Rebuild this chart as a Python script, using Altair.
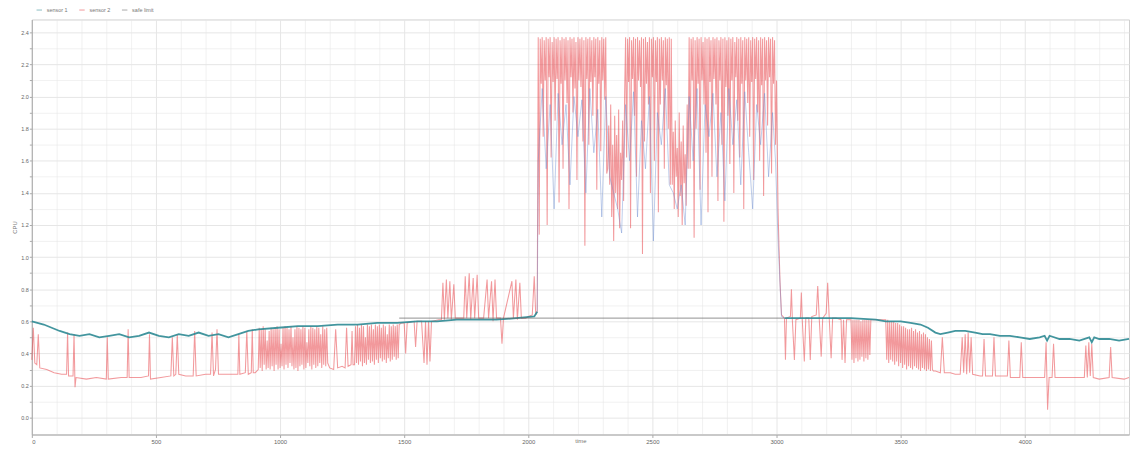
import altair as alt
import pandas as pd

# ---- axis ticks -------------------------------------------------------------
X_TICKS = [0, 100, 200, 300, 400, 500, 600, 700, 800, 900, 1000, 1100, 1200, 1300, 1400,
           1500, 1600, 1700, 1800, 1900, 2000, 2100, 2200, 2300, 2400, 2500, 2600, 2700,
           2800, 2900, 3000, 3100, 3200, 3300, 3400, 3500, 3600, 3700, 3800, 3900, 4000,
           4100, 4200, 4300, 4400]
Y_TICKS = [0.0, 0.1, 0.2, 0.3, 0.4, 0.5, 0.6, 0.7, 0.8, 0.9, 1.0, 1.1, 1.2, 1.3, 1.4,
           1.5, 1.6, 1.7, 1.8, 1.9, 2.0, 2.1, 2.2, 2.3, 2.4]

SERIES = ["sensor 1", "sensor 2", "safe limit"]
COLORS = ["#2e8a94", "#e8464a", "#666666"]

SAMPLE_STEP = 4  # spacing of the densely sampled stretches

# ---- sensor 2 (red) : sparse stretches as (x, y) --------------------------------
RED_A = [(0, 0.36), (6, 0.56), (12, 0.34), (20, 0.33), (26, 0.52), (32, 0.31), (60, 0.30),
         (90, 0.28), (120, 0.27), (140, 0.27), (144, 0.53), (148, 0.26), (166, 0.26),
         (170, 0.52), (174, 0.19), (178, 0.25), (220, 0.24), (260, 0.25), (300, 0.24),
         (304, 0.50), (308, 0.24), (360, 0.25), (384, 0.25), (388, 0.55), (392, 0.25),
         (440, 0.25), (470, 0.26), (474, 0.52), (478, 0.24), (520, 0.25), (560, 0.26),
         (566, 0.50), (572, 0.26), (580, 0.27), (586, 0.52), (592, 0.27), (620, 0.26),
         (650, 0.26), (656, 0.54), (662, 0.26), (700, 0.27), (720, 0.27), (726, 0.53),
         (732, 0.26), (740, 0.30), (746, 0.55), (752, 0.27), (800, 0.27), (830, 0.27),
         (834, 0.52), (838, 0.27), (860, 0.28), (866, 0.54), (872, 0.27), (884, 0.28),
         (888, 0.55), (892, 0.28), (900, 0.28), (906, 0.29)]
# dense stretch 912 .. 1192
RED_B_START = 912
RED_B_Y = [0.30, 0.56, 0.31, 0.55, 0.29, 0.57, 0.33, 0.55, 0.30, 0.48, 0.31, 0.54, 0.30, 0.56,
           0.32, 0.55, 0.29, 0.56, 0.33, 0.57, 0.30, 0.55, 0.31, 0.46, 0.32, 0.56, 0.30, 0.57,
           0.33, 0.56, 0.31, 0.55, 0.34, 0.57, 0.32, 0.50, 0.30, 0.55, 0.31, 0.57, 0.29, 0.56,
           0.32, 0.55, 0.33, 0.57, 0.30, 0.56, 0.31, 0.47, 0.34, 0.55, 0.32, 0.57, 0.30, 0.56,
           0.33, 0.55, 0.31, 0.57, 0.32, 0.56, 0.34, 0.52, 0.31, 0.57, 0.33, 0.55, 0.32, 0.56,
           0.34]
RED_C = [(1200, 0.31), (1216, 0.30), (1224, 0.55), (1232, 0.31), (1250, 0.32), (1262, 0.31),
         (1268, 0.56), (1274, 0.32), (1286, 0.33), (1290, 0.54), (1294, 0.33), (1300, 0.33)]
# dense stretch 1304 .. 1480
RED_D_START = 1304
RED_D_Y = [0.57, 0.34, 0.58, 0.33, 0.56, 0.35, 0.58, 0.32, 0.57, 0.34, 0.50, 0.33, 0.58, 0.36,
           0.57, 0.34, 0.58, 0.35, 0.55, 0.33, 0.58, 0.36, 0.57, 0.34, 0.58, 0.37, 0.56, 0.35,
           0.58, 0.36, 0.57, 0.34, 0.52, 0.37, 0.58, 0.35, 0.57, 0.36, 0.58, 0.38, 0.57, 0.36,
           0.58, 0.37, 0.58]
RED_E = [(1490, 0.59), (1500, 0.59), (1506, 0.40), (1512, 0.59), (1540, 0.60), (1546, 0.44),
         (1552, 0.60), (1570, 0.60), (1580, 0.34), (1586, 0.60), (1592, 0.33), (1598, 0.60),
         (1604, 0.35), (1610, 0.60), (1640, 0.61), (1650, 0.61), (1656, 0.84), (1662, 0.61),
         (1670, 0.86), (1676, 0.62), (1684, 0.85), (1690, 0.61), (1700, 0.83), (1706, 0.62),
         (1740, 0.62), (1746, 0.88), (1752, 0.62), (1762, 0.90), (1768, 0.61), (1778, 0.87),
         (1784, 0.62), (1794, 0.89), (1800, 0.62), (1820, 0.62), (1834, 0.86), (1840, 0.62),
         (1852, 0.85), (1858, 0.60), (1866, 0.86), (1872, 0.62), (1888, 0.62), (1894, 0.46),
         (1900, 0.62), (1934, 0.85), (1940, 0.62), (1950, 0.86), (1956, 0.61), (1966, 0.84),
         (1972, 0.62), (1990, 0.62), (2000, 0.63), (2016, 0.64), (2024, 0.88), (2030, 0.64),
         (2036, 0.66)]
# dense high stretch from 2040 on
RED_F_START = 2040
RED_F_Y = [
    # 2040 .. 2316
    2.37, 1.14, 2.36, 2.08, 2.37, 1.75, 2.35, 2.10, 2.37, 1.20, 2.36, 2.12, 2.37, 1.62,
    2.34, 2.09, 2.37, 1.85, 2.36, 2.11, 2.37, 1.34, 2.35, 2.08, 2.37, 1.55, 2.36, 2.10,
    2.37, 1.96, 2.35, 1.30, 2.37, 2.12, 2.36, 1.90, 2.37, 2.05, 2.34, 1.48, 2.37, 2.10,
    2.36, 2.06, 2.37, 1.72, 2.35, 1.07, 2.37, 2.11, 2.36, 1.70, 2.37, 2.09, 2.35, 1.88,
    2.37, 2.12, 2.36, 1.42, 2.37, 2.08, 2.35, 1.66, 2.37, 2.10, 2.36, 1.98, 2.37, 1.52,
    # 2320 .. 2388 (lower stretch)
    1.55, 1.82, 1.45, 1.95, 1.25, 1.70, 1.10, 1.88, 1.40, 1.76, 1.30, 1.92, 1.18, 1.65,
    1.48, 1.85, 1.35, 2.00,
    # 2392 .. 2576
    2.37, 1.62, 2.36, 2.09, 2.37, 1.18, 2.35, 2.11, 2.37, 1.88, 2.36, 1.50, 2.37, 2.10,
    2.35, 2.06, 2.37, 1.02, 2.36, 1.72, 2.37, 2.08, 2.34, 1.95, 2.37, 1.40, 2.36, 2.12,
    2.37, 1.60, 2.35, 2.09, 2.37, 1.28, 2.36, 1.95, 2.37, 2.10, 2.35, 1.55, 2.37, 2.07,
    2.36, 1.80, 2.37, 1.45, 2.36,
    # 2580 .. 2644 (lower stretch)
    1.45, 1.78, 1.30, 1.85, 1.50, 1.68, 1.25, 1.90, 1.38, 1.72, 1.20, 1.82, 1.46, 1.64,
    1.32, 1.95, 1.55,
    # 2648 .. 3000
    2.37, 1.55, 2.36, 2.10, 2.37, 1.12, 2.35, 1.80, 2.37, 2.08, 2.36, 1.42, 2.37, 2.10,
    2.34, 1.95, 2.37, 1.65, 2.36, 1.28, 2.37, 2.09, 2.35, 1.50, 2.37, 2.11, 2.36, 1.95,
    2.37, 1.35, 2.35, 2.10, 2.37, 1.70, 2.36, 1.22, 2.37, 2.06, 2.35, 1.88, 2.37, 1.58,
    2.36, 2.10, 2.37, 1.40, 2.34, 2.12, 2.37, 1.85, 2.36, 1.62, 2.37, 2.08, 2.35, 1.30,
    2.37, 2.10, 2.36, 1.96, 2.37, 1.75, 2.35, 2.09, 2.37, 1.48, 2.36, 2.11, 2.37, 1.90,
    2.35, 1.60, 2.37, 2.07, 2.36, 1.38, 2.37, 2.10, 2.35, 1.82, 2.37, 2.12, 2.36, 1.52,
    2.37, 2.08, 2.35, 1.70, 2.10,
]
RED_F_TAIL = [(3006, 1.30), (3010, 1.06), (3014, 0.85), (3020, 0.64)]
RED_G1 = [(3032, 0.62), (3036, 0.36), (3040, 0.62), (3056, 0.63), (3060, 0.80), (3064, 0.60),
          (3072, 0.36), (3078, 0.61), (3096, 0.62), (3100, 0.78), (3104, 0.60), (3112, 0.35),
          (3118, 0.62), (3130, 0.62), (3136, 0.36), (3142, 0.63), (3160, 0.64), (3166, 0.82),
          (3172, 0.62), (3180, 0.38), (3186, 0.62), (3200, 0.65), (3206, 0.84), (3212, 0.63),
          (3220, 0.37), (3226, 0.62), (3240, 0.62), (3260, 0.61), (3264, 0.36), (3270, 0.61),
          (3276, 0.34), (3282, 0.61), (3290, 0.61)]
RED_G2_START = 3300
RED_G2_Y = [0.61, 0.36, 0.61, 0.34, 0.61, 0.37, 0.61, 0.35, 0.61, 0.36, 0.60, 0.38, 0.61,
            0.35, 0.61, 0.37, 0.61, 0.36, 0.61, 0.39, 0.61]
RED_G3 = [(3400, 0.61), (3420, 0.61), (3432, 0.61)]
RED_G4_START = 3440
RED_G4_Y = [0.61, 0.36, 0.61, 0.34, 0.60, 0.36, 0.60, 0.35, 0.60, 0.33, 0.59, 0.35, 0.59,
            0.32, 0.58, 0.34, 0.57, 0.31, 0.57, 0.33, 0.56, 0.30, 0.55, 0.32, 0.55, 0.31,
            0.56, 0.30, 0.54, 0.32, 0.55, 0.31, 0.53, 0.30, 0.54, 0.29, 0.52, 0.31, 0.53,
            0.30, 0.52, 0.29, 0.50, 0.30, 0.49, 0.29, 0.48, 0.30, 0.29]
RED_H = [(3640, 0.29), (3660, 0.28), (3668, 0.50), (3676, 0.28), (3700, 0.28), (3720, 0.27),
         (3740, 0.27), (3748, 0.50), (3754, 0.28), (3760, 0.52), (3766, 0.27), (3772, 0.53),
         (3778, 0.28), (3784, 0.50), (3790, 0.27), (3820, 0.26), (3830, 0.26), (3836, 0.49),
         (3842, 0.26), (3870, 0.26), (3876, 0.50), (3882, 0.26), (3930, 0.26), (3936, 0.48),
         (3942, 0.25), (3980, 0.25), (3986, 0.47), (3992, 0.25), (4080, 0.25), (4086, 0.47),
         (4092, 0.05), (4098, 0.25), (4110, 0.25), (4116, 0.46), (4122, 0.25), (4200, 0.25),
         (4240, 0.25), (4246, 0.45), (4252, 0.25), (4258, 0.47), (4264, 0.26), (4270, 0.46),
         (4276, 0.25), (4300, 0.24), (4340, 0.25), (4346, 0.44), (4352, 0.25), (4400, 0.24),
         (4420, 0.25)]

# ---- sensor 1 (teal) ----------------------------------------------------------
TEAL_LEFT = [(0, 0.60), (48, 0.58), (112, 0.54), (152, 0.52), (192, 0.51), (232, 0.52),
             (272, 0.50), (312, 0.51), (352, 0.52), (392, 0.50), (432, 0.51), (472, 0.53),
             (512, 0.51), (552, 0.50), (592, 0.52), (632, 0.51), (672, 0.53), (712, 0.51),
             (752, 0.52), (792, 0.50), (832, 0.52), (872, 0.54), (912, 0.55), (992, 0.56),
             (1072, 0.57), (1152, 0.57), (1232, 0.58), (1312, 0.58), (1392, 0.59),
             (1472, 0.59), (1552, 0.60), (1632, 0.60), (1712, 0.61), (1792, 0.61),
             (1872, 0.61), (1952, 0.62), (2024, 0.63), (2036, 0.66)]
TEAL_MID = [(2036, 0.66), (2040, 1.60), (2056, 2.05), (2072, 1.55), (2088, 1.95), (2104, 1.30),
            (2120, 2.02), (2136, 1.70), (2152, 1.95), (2168, 1.45), (2184, 2.00), (2200, 1.75),
            (2216, 1.98), (2232, 1.40), (2248, 2.05), (2264, 1.65), (2280, 1.92), (2296, 1.25),
            (2312, 2.00), (2328, 1.50), (2344, 1.40), (2360, 1.30), (2376, 1.15), (2392, 1.95),
            (2408, 1.60), (2424, 2.03), (2440, 1.25), (2456, 1.85), (2472, 1.55), (2488, 2.00),
            (2504, 1.10), (2520, 1.90), (2536, 1.70), (2552, 2.05), (2568, 1.45), (2584, 1.40),
            (2600, 1.30), (2616, 1.45), (2632, 1.20), (2648, 2.00), (2664, 1.60), (2680, 2.05),
            (2696, 1.20), (2712, 1.95), (2728, 1.75), (2744, 2.02), (2760, 1.50), (2776, 1.90),
            (2792, 1.35), (2808, 2.05), (2824, 1.70), (2840, 1.98), (2856, 1.45), (2872, 2.03),
            (2888, 1.65), (2904, 1.30), (2920, 1.95), (2936, 1.70), (2952, 2.02), (2968, 1.50),
            (2984, 1.90), (2996, 1.60), (3004, 1.20), (3012, 0.90), (3020, 0.63), (3032, 0.62)]
TEAL_RIGHT = [(3032, 0.62), (3100, 0.62), (3200, 0.62), (3300, 0.62), (3400, 0.61),
              (3440, 0.60), (3500, 0.60), (3540, 0.59), (3580, 0.58), (3610, 0.56),
              (3640, 0.53), (3660, 0.52), (3690, 0.53), (3720, 0.54), (3760, 0.54),
              (3800, 0.53), (3830, 0.52), (3860, 0.52), (3900, 0.51), (3940, 0.51),
              (3980, 0.50), (4020, 0.49), (4060, 0.50), (4080, 0.51), (4090, 0.48),
              (4100, 0.51), (4140, 0.49), (4180, 0.49), (4220, 0.48), (4260, 0.50),
              (4270, 0.47), (4280, 0.50), (4300, 0.49), (4340, 0.49), (4380, 0.48),
              (4420, 0.49)]

# ---- safe limit (gray) ----------------------------------------------------------
LIMIT = [(1480, 0.62), (3030, 0.62)]


def dense(start, values):
    return [(start + SAMPLE_STEP * i, v) for i, v in enumerate(values)]


def table(name, *segments):
    rows = []
    for seg in segments:
        for xv, yv in seg:
            rows.append({"series": name, "x": xv, "y": yv})
    return pd.DataFrame(rows)


red_df = table("sensor 2", RED_A, dense(RED_B_START, RED_B_Y), RED_C,
               dense(RED_D_START, RED_D_Y), RED_E, dense(RED_F_START, RED_F_Y),
               RED_F_TAIL, RED_G1, dense(RED_G2_START, RED_G2_Y), RED_G3,
               dense(RED_G4_START, RED_G4_Y), RED_H)
red_df = red_df.sort_values("x").drop_duplicates("x")
teal_side_df = table("sensor 1", TEAL_LEFT, TEAL_RIGHT)
teal_side_df["part"] = ["L"] * len(TEAL_LEFT) + ["R"] * len(TEAL_RIGHT)
teal_mid_df = table("sensor 1", TEAL_MID)
lim_df = table("safe limit", LIMIT)

FONT = "Liberation Sans"

x_enc = alt.X(
    "x:Q",
    scale=alt.Scale(domain=[0, 4420], nice=False, zero=False),
    axis=alt.Axis(
        values=X_TICKS,
        labelExpr="datum.value % 500 === 0 ? format(datum.value, 'd') : ''",
        title="time",
        titleFontSize=6,
        titleFontWeight="normal",
        titleColor="#777",
        titleBaseline="bottom",
        titleY=9,
        labelFontSize=6,
        labelColor="#666",
        labelPadding=1,
        tickSize=3,
        tickColor="#aaa",
        tickOpacity={"condition": {"test": "datum.value % 500 === 0", "value": 1}, "value": 0},
        domainColor="#aaa",
        gridColor="#e6e6e6",
        gridOpacity={"condition": {"test": "datum.value % 500 === 0", "value": 1}, "value": 0.55},
        labelFont=FONT,
        titleFont=FONT,
    ),
)
y_enc = alt.Y(
    "y:Q",
    scale=alt.Scale(domain=[-0.105, 2.48], nice=False, zero=False),
    axis=alt.Axis(
        values=Y_TICKS,
        labelExpr="round(datum.value * 10) % 2 === 0 ? format(datum.value, '.1f') : ''",
        title="CPU",
        titleFontSize=6,
        titleFontWeight="normal",
        titleColor="#777",
        titlePadding=3,
        labelFontSize=5.5,
        labelColor="#666",
        labelPadding=1,
        tickSize=2.5,
        tickColor="#aaa",
        domainColor="#aaa",
        gridColor="#e6e6e6",
        gridOpacity={"condition": {"test": "round(datum.value * 10) % 2 === 0", "value": 1},
                     "value": 0.55},
        labelFont=FONT,
        titleFont=FONT,
    ),
)
color_enc = alt.Color(
    "series:N",
    scale=alt.Scale(domain=SERIES, range=COLORS),
    legend=alt.Legend(
        orient="none",
        legendX=4,
        legendY=-13,
        direction="horizontal",
        title=None,
        labelFontSize=5.5,
        labelColor="#777",
        labelFont=FONT,
        symbolType="stroke",
        symbolSize=30,
        symbolStrokeWidth=1,
        columnPadding=8,
    ),
)

teal_mid = alt.Chart(teal_mid_df).mark_line(
    strokeWidth=0.8, opacity=0.55, color="#6f8fd0").encode(x=x_enc, y=y_enc, order="x:Q")
red = alt.Chart(red_df).mark_line(strokeWidth=1.05, opacity=0.55).encode(
    x=x_enc, y=y_enc, color=color_enc, order="x:Q")
teal = alt.Chart(teal_side_df).mark_line(strokeWidth=1.8, opacity=0.9).encode(
    x=x_enc, y=y_enc, color=color_enc, detail="part:N", order="x:Q")
lim = alt.Chart(lim_df).mark_line(strokeWidth=0.8, opacity=0.9).encode(
    x=x_enc, y=y_enc, color=color_enc, order="x:Q")

chart = (
    alt.layer(red, teal_mid, teal, lim)
    .properties(
        width=1105,
        height=418,
        autosize=alt.AutoSizeParams(type="none"),
        padding={"left": 24, "top": 10, "right": 2, "bottom": 9},
        background="white",
    )
    .configure_view(stroke="#d0d0d0", strokeWidth=1)
)

chart.save("out.html", embed_options={"renderer": "svg", "actions": False})
